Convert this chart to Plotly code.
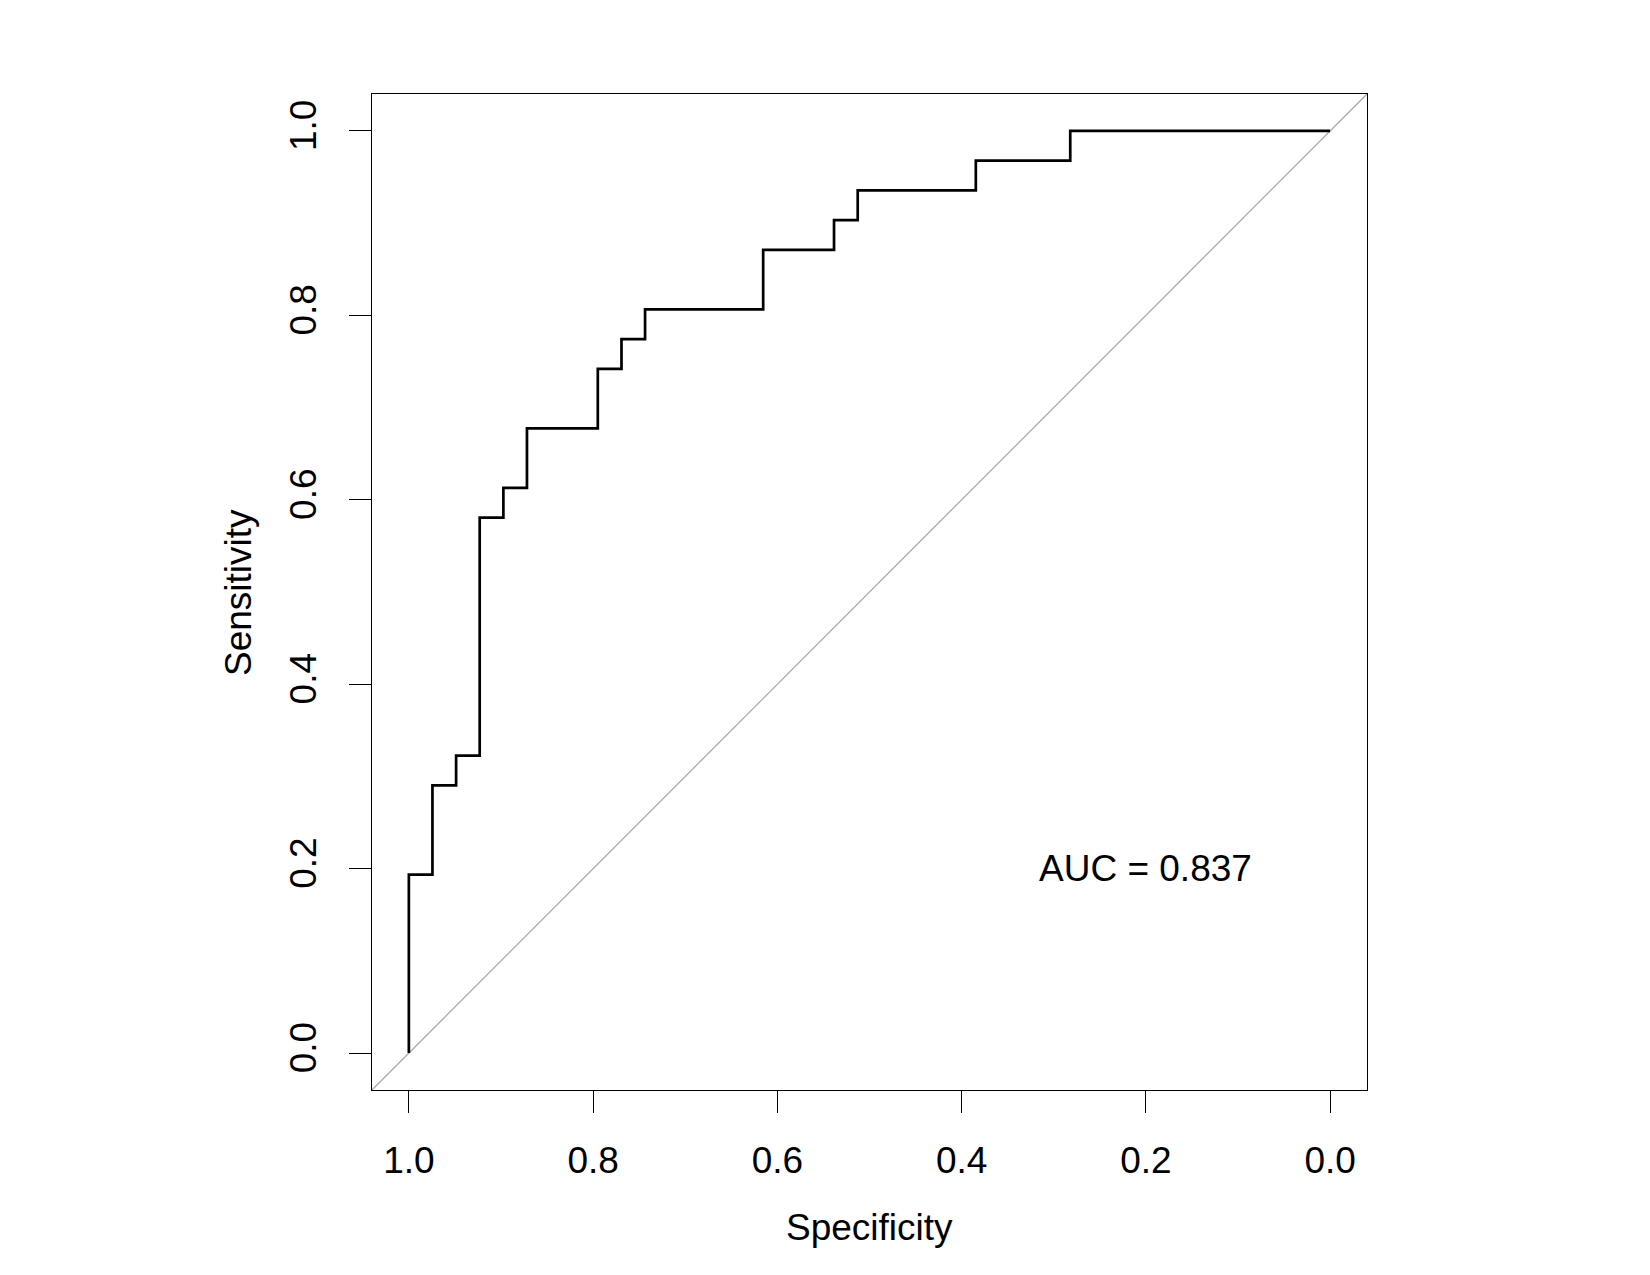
import plotly.graph_objects as go

# ROC curve values (specificity, sensitivity)
specificity = [1.0, 1.0, 0.9744, 0.9744, 0.9487, 0.9487, 0.9231, 0.9231, 0.8974, 0.8974,
               0.8718, 0.8718, 0.7949, 0.7949, 0.7692, 0.7692, 0.7436, 0.7436, 0.6154, 0.6154,
               0.5385, 0.5385, 0.5128, 0.5128, 0.3846, 0.3846, 0.2821, 0.2821, 0.0]
sensitivity = [0.0, 0.1935, 0.1935, 0.2903, 0.2903, 0.3226, 0.3226, 0.5806, 0.5806, 0.6129,
               0.6129, 0.6774, 0.6774, 0.7419, 0.7419, 0.7742, 0.7742, 0.8065, 0.8065, 0.8710,
               0.8710, 0.9032, 0.9032, 0.9355, 0.9355, 0.9677, 0.9677, 1.0, 1.0]
tick_vals = [0.0, 0.2, 0.4, 0.6, 0.8, 1.0]
tick_text = ["0.0", "0.2", "0.4", "0.6", "0.8", "1.0"]
auc_label = "AUC = 0.837"
auc_pos = (0.2, 0.2)
x_range = [1.04, -0.04]
y_range = [-0.04, 1.04]

FONT = "Liberation Sans, Arial, Helvetica, sans-serif"
FS = 37

fig = go.Figure()
# diagonal reference line (identity), spanning the whole plot region
fig.add_trace(go.Scatter(x=x_range, y=y_range, mode="lines",
                         line=dict(color="#a9a9a9", width=1.3), hoverinfo="skip"))
fig.add_trace(go.Scatter(x=specificity, y=sensitivity, mode="lines",
                         line=dict(color="black", width=2.7), hoverinfo="skip"))

fig.add_annotation(x=auc_pos[0], y=auc_pos[1], text=auc_label, showarrow=False,
                   xanchor="center", yanchor="middle",
                   font=dict(family=FONT, size=FS, color="black"))

axis_common = dict(showgrid=False, zeroline=False, showline=True, linecolor="black",
                   linewidth=1.3, mirror=True, ticks="outside", ticklen=22,
                   tickwidth=1.3, tickcolor="black",
                   tickvals=tick_vals, ticktext=tick_text,
                   tickfont=dict(family=FONT, size=FS, color="black"))

fig.update_xaxes(range=x_range, ticklabelstandoff=15, **axis_common)
fig.update_yaxes(range=y_range, tickangle=-90, ticklabelstandoff=18, **axis_common)

fig.add_annotation(x=0.5, y=-0.1376, xref="paper", yref="paper", text="Specificity",
                   showarrow=False, xanchor="center", yanchor="middle",
                   font=dict(family=FONT, size=FS, color="black"))
fig.add_annotation(x=-0.1347, y=0.5, xref="paper", yref="paper", text="Sensitivity",
                   showarrow=False, xanchor="center", yanchor="middle", textangle=-90,
                   font=dict(family=FONT, size=FS, color="black"))

fig.update_layout(width=1650, height=1275, showlegend=False,
                  margin=dict(l=372, r=283, t=94, b=185, pad=0),
                  paper_bgcolor="white", plot_bgcolor="white")

fig.write_html("out.html")
